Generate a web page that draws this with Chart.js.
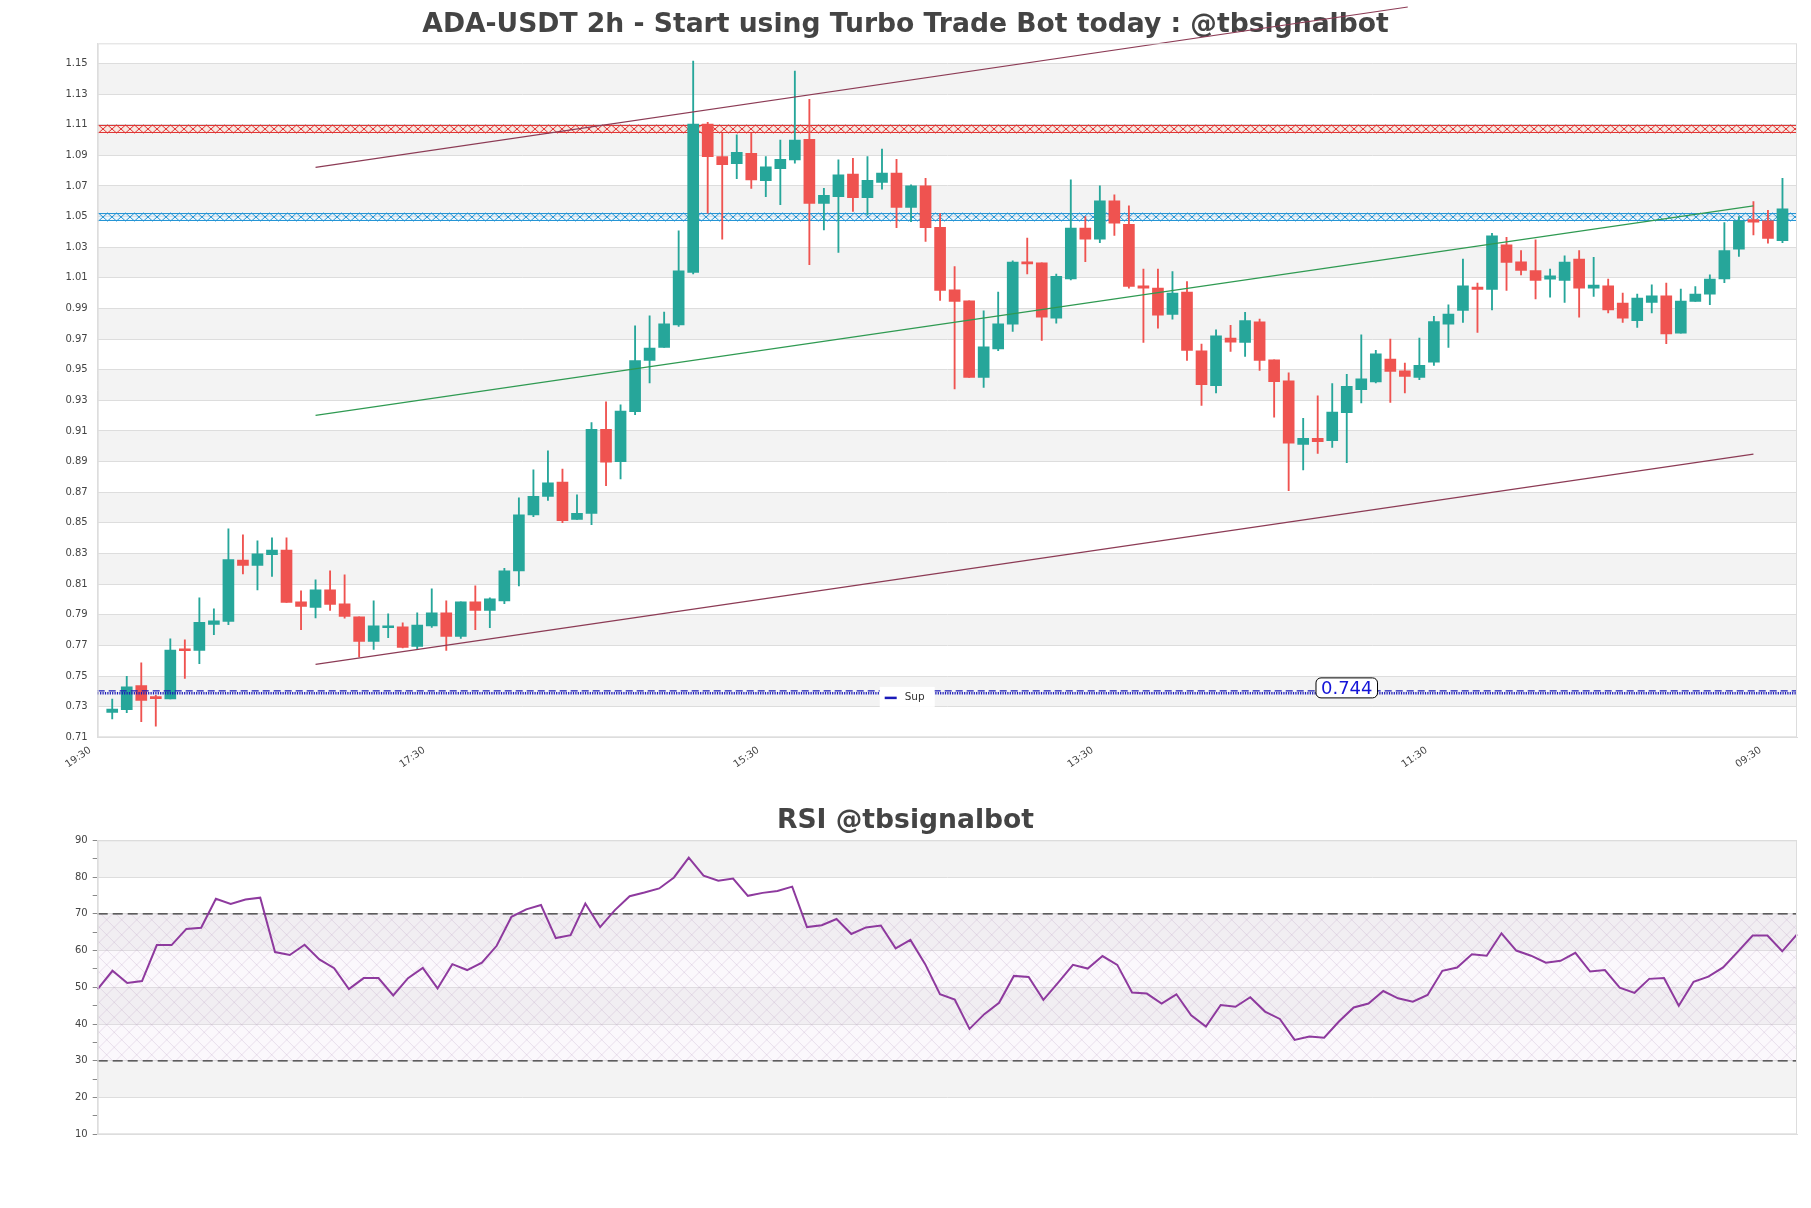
<!DOCTYPE html>
<html>
<head>
<meta charset="utf-8">
<script src="https://cdn.jsdelivr.net/npm/chart.js@4.4.1/dist/chart.umd.min.js"></script>
<style>
  html,body{margin:0;padding:0;background:#fff;}
  #wrap{position:relative;width:1811px;height:1208px;}
  #main{position:absolute;left:0;top:0;}
  #rsi{position:absolute;left:0;top:780px;}
</style>
</head>
<body>
<div id="wrap">
  <canvas id="main" width="1811" height="780"></canvas>
  <canvas id="rsi" width="1811" height="428"></canvas>
</div>
<script>
// ── DATA ──
const TITLE_MAIN='ADA-USDT 2h - Start using Turbo Trade Bot today : @tbsignalbot';
const TITLE_RSI='RSI @tbsignalbot';
const X_TICK_INDEX=[0,23,46,69,92,115];
const X_TICK_LABELS=['19:30','17:30','15:30','13:30','11:30','09:30'];
const Y_TICKS=[0.71,0.73,0.75,0.77,0.79,0.81,0.83,0.85,0.87,0.89,0.91,0.93,0.95,0.97,0.99,1.01,1.03,1.05,1.07,1.09,1.11,1.13,1.15];
const RSI_TICKS=[10,15,20,25,30,35,40,45,50,55,60,65,70,75,80,85,90];
const RSI_BANDS=[10,20,30,40,50,60,70,80,90];

const OPEN=[0.7263,0.728,0.7437,0.736,0.735,0.7675,0.7667,0.7837,0.7857,0.8257,
 0.8222,0.8293,0.8322,0.7985,0.7948,0.8063,0.7972,0.7887,0.7726,0.7815,
 0.7822,0.7693,0.7828,0.7913,0.7759,0.7985,0.7928,0.7991,0.8187,0.8552,
 0.8672,0.8767,0.8522,0.8561,0.911,0.89,0.9226,0.9561,0.9646,0.9793,
 1.0135,1.1104,1.0891,1.0846,1.0913,1.0735,1.0813,1.087,1.1004,1.0585,
 1.063,1.0778,1.0624,1.0722,1.0783,1.0559,1.07,1.043,1.0022,0.995,
 0.945,0.9635,0.9798,1.02,1.0198,0.9837,1.0093,1.0424,1.0352,1.0602,
 1.045,1.0048,1.0033,0.9861,1.0007,0.9624,0.9396,0.9707,0.9678,0.9813,
 0.9565,0.9428,0.9013,0.9052,0.9037,0.922,0.9369,0.942,0.9569,0.9493,
 0.945,0.955,0.9798,0.9887,1.0039,1.0024,1.0315,1.0204,1.0148,1.0091,
 1.0083,1.0222,1.0033,1.0048,0.9935,0.982,0.9939,0.9983,0.9739,0.9946,
 0.9993,1.0093,1.0287,1.048,1.0472,1.0343];
const HIGH=[0.735,0.7498,0.7587,0.7374,0.7743,0.7737,0.8011,0.7939,0.8461,0.8422,
 0.8383,0.8402,0.8402,0.8056,0.8128,0.8187,0.8161,0.7887,0.7991,0.7906,
 0.7848,0.7913,0.807,0.7991,0.7985,0.8089,0.8011,0.8204,0.8663,0.8846,
 0.897,0.8852,0.8683,0.9154,0.9291,0.927,0.9787,0.9852,0.9876,1.0406,
 1.1515,1.1115,1.1043,1.1033,1.1043,1.0891,1.1,1.145,1.1265,1.0685,
 1.087,1.088,1.0891,1.0941,1.0874,1.0707,1.075,1.052,1.0174,0.995,
 0.9885,1.0007,1.0211,1.0359,1.0198,1.0124,1.0739,1.05,1.07,1.0641,
 1.057,1.0157,1.0157,1.0141,1.0076,0.9667,0.9761,0.9789,0.9874,0.983,
 0.9565,0.948,0.9183,0.933,0.941,0.947,0.9728,0.9626,0.97,0.9543,
 0.9707,0.9848,0.9924,1.0222,1.0065,1.0391,1.0365,1.0278,1.0348,1.0157,
 1.0243,1.0278,1.0233,1.0091,1.0,0.9993,1.0054,1.0065,1.0026,1.0043,
 1.012,1.0461,1.05,1.0598,1.054,1.075];
const LOW=[0.722,0.726,0.7202,0.7172,0.735,0.7485,0.758,0.777,0.7835,0.8167,
 0.8063,0.815,0.798,0.7802,0.788,0.7928,0.7878,0.7624,0.7674,0.775,
 0.7683,0.7674,0.7817,0.7667,0.7746,0.7802,0.7815,0.7972,0.8089,0.8541,
 0.8646,0.8502,0.8522,0.8489,0.8743,0.8787,0.9206,0.9413,0.9646,0.9783,
 1.0126,1.0522,1.0352,1.0748,1.0683,1.063,1.0578,1.0848,1.0185,1.0413,
 1.0265,1.0533,1.0511,1.0678,1.0428,1.0467,1.0337,0.9952,0.9374,0.945,
 0.9385,0.9624,0.975,1.0126,0.9691,0.9804,1.0087,1.0206,1.033,1.0376,
 1.0033,0.9678,0.9772,0.983,0.9561,0.9267,0.9348,0.962,0.9587,0.9496,
 0.919,0.871,0.8846,0.8954,0.8993,0.8893,0.9283,0.9413,0.9287,0.9348,
 0.9435,0.9528,0.9646,0.9809,0.9743,0.9891,1.0017,1.0119,0.9963,0.9974,
 0.9939,0.9843,0.9978,0.987,0.9809,0.9776,0.987,0.967,0.9739,0.9946,
 0.9924,1.0069,1.0239,1.038,1.0326,1.033];
const CLOSE=[0.7285,0.743,0.734,0.7352,0.767,0.7665,0.785,0.7861,0.826,0.8222,
 0.8298,0.8322,0.798,0.7954,0.8063,0.7967,0.7889,0.7726,0.7828,0.7826,
 0.7687,0.7833,0.7913,0.7759,0.7985,0.7928,0.8004,0.8187,0.8552,0.8674,
 0.8761,0.8515,0.8563,0.911,0.8896,0.923,0.9559,0.9641,0.98,1.0146,
 1.1104,1.0891,1.0839,1.092,1.0739,1.0824,1.0874,1.1,1.0585,1.0639,
 1.0772,1.0624,1.0737,1.0783,1.0559,1.07,1.0428,1.0017,0.9946,0.945,
 0.965,0.98,1.0202,1.0191,0.9843,1.0109,1.0424,1.0352,1.0602,1.0456,
 1.0043,1.0033,0.9856,1.0,0.9626,0.9402,0.9722,0.968,0.982,0.9561,
 0.9422,0.902,0.9052,0.903,0.9224,0.9391,0.9441,0.9604,0.9489,0.9456,
 0.9528,0.9815,0.9863,1.0048,1.0024,1.0374,1.02,1.0148,1.0083,1.0113,
 1.0202,1.0033,1.0052,0.9891,0.9837,0.9967,0.9983,0.9733,0.9948,0.9993,
 1.0091,1.0278,1.0472,1.0463,1.0357,1.055];

const RSI=[49.5,54.5,51.2,51.7,61.5,61.5,65.9,66.2,74.1,72.7,
 73.9,74.4,59.6,58.8,61.6,57.6,55.2,49.5,52.5,52.5,
 47.8,52.5,55.3,49.7,56.3,54.7,56.7,61.3,69.2,71.2,
 72.4,63.4,64.2,72.8,66.4,71.0,74.8,75.8,76.9,79.9,
 85.3,80.4,79.0,79.6,74.9,75.7,76.2,77.4,66.4,66.9,
 68.6,64.5,66.3,66.8,60.6,62.9,56.3,48.1,46.7,38.7,
 42.7,45.8,53.1,52.8,46.6,51.3,56.1,55.1,58.5,56.1,
 48.6,48.3,45.6,48.1,42.4,39.3,45.2,44.7,47.3,43.4,
 41.4,35.7,36.6,36.3,40.7,44.5,45.6,49.0,47.0,46.1,
 47.9,54.5,55.4,59.0,58.6,64.7,60.0,58.6,56.7,57.2,
 59.4,54.3,54.7,49.9,48.5,52.3,52.5,45.0,51.5,52.9,
 55.4,59.7,64.1,64.1,59.8,64.4];

// trend channel endpoints [index, price]
const CHANNEL_UP=[[14,1.0821],[89.2,1.1868]];
const CHANNEL_MID=[[14,0.9202],[113,1.057]];
const CHANNEL_LOW=[[14,0.7576],[113,0.8949]];
const RES_ZONE=[1.1043,1.1097];
const PIVOT_ZONE=[1.0469,1.0525];
const SUP_LINES=[0.7388,0.7403];
const SUP_TAG_AT=85, SUP_TAG='0.744', SUP_NAME='Sup';
const RSI_LEVELS=[30,70];

// ── STYLE ──
const UP='#26a69a', DN='#ef5350';
const FONT='DejaVu Sans';
const txt='#444', grid='#dddddd', band='#f3f3f3';
// empty right-hand axis: keeps the plot 14px from the edge while titles centre on the full canvas
const spacer={ position:'right', display:true, grid:{display:false,drawTicks:false},
  border:{display:false}, ticks:{display:false}, afterFit:s=>{ s.width=14; } };

// ── PLUGINS ──
const zebra={ id:'zebra',
  beforeDraw(chart,args,opts){
    const {ctx,chartArea:a}=chart, y=chart.scales.y, e=opts.edges||[];
    ctx.save();
    ctx.fillStyle=band;
    for(let i=1;i<e.length-1;i+=2){
      const p0=y.getPixelForValue(e[i]), p1=y.getPixelForValue(e[i+1]);
      ctx.fillRect(a.left,p1,a.right-a.left,p0-p1);
    }
    ctx.restore();
  },
  afterDraw(chart){
    const {ctx,chartArea:a}=chart;
    ctx.save(); ctx.strokeStyle=grid; ctx.lineWidth=1;
    ctx.strokeRect(a.left+0.5,a.top+0.5,a.right-a.left-1,a.bottom-a.top-1);
    ctx.restore();
  }
};

function zone(ctx,a,y,lo,hi,col,fill){
  const t=Math.round(y.getPixelForValue(hi)), b=Math.round(y.getPixelForValue(lo)), step=9;
  ctx.save();
  ctx.beginPath(); ctx.rect(a.left,t-1,a.right-a.left,b-t+2); ctx.clip();
  ctx.fillStyle=fill; ctx.fillRect(a.left,t,a.right-a.left,b-t);
  ctx.strokeStyle=col; ctx.lineWidth=1;
  ctx.beginPath();
  ctx.moveTo(a.left,t+0.5); ctx.lineTo(a.right,t+0.5);
  ctx.moveTo(a.left,b-0.5); ctx.lineTo(a.right,b-0.5);
  for(let x=Math.round(a.left)+0.5;x<a.right;x+=step){
    ctx.moveTo(x,t); ctx.lineTo(x+step,b);
    ctx.moveTo(x+step,t); ctx.lineTo(x,b);
  }
  ctx.stroke(); ctx.restore();
}

const levels={ id:'levels',
  beforeDatasetsDraw(chart){
    const {ctx,chartArea:a}=chart, y=chart.scales.y;
    zone(ctx,a,y,RES_ZONE[0],RES_ZONE[1],'#e03535','rgba(255,210,190,0.35)');
    zone(ctx,a,y,PIVOT_ZONE[0],PIVOT_ZONE[1],'#2595d5','rgba(200,230,250,0.35)');
  },
  afterDatasetsDraw(chart){
    const {ctx,chartArea:a}=chart, x=chart.scales.x, y=chart.scales.y;
    const yd=y.getPixelForValue(SUP_LINES[1]), yo=y.getPixelForValue(SUP_LINES[0]);
    ctx.save();
    ctx.strokeStyle='#1a1ab8';
    ctx.lineWidth=1.2; ctx.setLineDash([7,4]);
    ctx.beginPath(); ctx.moveTo(a.left,yd); ctx.lineTo(a.right,yd); ctx.stroke();
    ctx.lineWidth=2.4; ctx.setLineDash([1.2,1.2]);
    ctx.beginPath(); ctx.moveTo(a.left,yo); ctx.lineTo(a.right,yo); ctx.stroke();
    ctx.setLineDash([]);
    // value tag
    const cx=x.getPixelForValue(SUP_TAG_AT), cy=yd-3;
    ctx.font='18px '+FONT;
    const w=ctx.measureText(SUP_TAG).width+10, h=20;
    ctx.fillStyle='#fff'; ctx.strokeStyle='#000'; ctx.lineWidth=1;
    ctx.beginPath(); ctx.roundRect(cx-w/2,cy-h/2,w,h,5); ctx.fill(); ctx.stroke();
    ctx.fillStyle='#1515d8'; ctx.textAlign='center'; ctx.textBaseline='middle';
    ctx.fillText(SUP_TAG,cx,cy+1);
    // legend
    const lx=a.left+782, ly=yd+6;
    ctx.fillStyle='#fff'; ctx.fillRect(lx,ly-10,55,20);
    ctx.strokeStyle='#1a1ab8'; ctx.lineWidth=2.5;
    ctx.beginPath(); ctx.moveTo(lx+5,ly+1); ctx.lineTo(lx+17,ly+1); ctx.stroke();
    ctx.fillStyle='#333'; ctx.font='10.5px '+FONT; ctx.textAlign='left';
    ctx.fillText(SUP_NAME,lx+25,ly);
    ctx.restore();
  }
};

const rsiZone={ id:'rsiZone',
  beforeDatasetsDraw(chart){
    const {ctx,chartArea:a}=chart, y=chart.scales.y;
    const t=y.getPixelForValue(RSI_LEVELS[1]), b=y.getPixelForValue(RSI_LEVELS[0]);
    ctx.save();
    ctx.beginPath(); ctx.rect(a.left,t,a.right-a.left,b-t); ctx.clip();
    ctx.fillStyle='rgba(235,215,240,0.18)'; ctx.fillRect(a.left,t,a.right-a.left,b-t);
    ctx.strokeStyle='rgba(190,165,200,0.45)'; ctx.lineWidth=0.7;
    ctx.beginPath();
    const s=15, hgt=b-t;
    for(let x=a.left-hgt;x<a.right+hgt;x+=s){
      ctx.moveTo(x,t); ctx.lineTo(x+hgt,b);
      ctx.moveTo(x,b); ctx.lineTo(x+hgt,t);
    }
    ctx.stroke();
    ctx.restore();
    ctx.save();
    ctx.strokeStyle='#333'; ctx.lineWidth=1.3; ctx.setLineDash([10,5]);
    RSI_LEVELS.forEach(v=>{
      const p=y.getPixelForValue(v);
      ctx.beginPath(); ctx.moveTo(a.left,p); ctx.lineTo(a.right,p); ctx.stroke();
    });
    ctx.restore();
  }
};

// ── MAIN CHART ──
const cols=OPEN.map((o,i)=>CLOSE[i]>=o?UP:DN);
const seg=(pts,c)=>({type:'line',data:pts.map(([x,y])=>({x,y})),borderColor:c,borderWidth:1.2,
  pointRadius:0,clip:false,order:0});

new Chart(document.getElementById('main'),{
  type:'bar',
  data:{ datasets:[
    seg(CHANNEL_UP,'#8c3b55'),
    seg(CHANNEL_MID,'#2f9a52'),
    seg(CHANNEL_LOW,'#8c3b55'),
    { data:OPEN.map((o,i)=>({x:i,y:[o,CLOSE[i]]})), backgroundColor:cols,
      barThickness:11, minBarLength:2, grouped:false, order:1 },
    { data:LOW.map((l,i)=>({x:i,y:[l,HIGH[i]]})), backgroundColor:cols,
      barThickness:1.2, grouped:false, order:2 }
  ]},
  options:{ responsive:false, animation:false,
    layout:{padding:0},
    plugins:{ legend:{display:false}, tooltip:{enabled:false},
      title:{display:true,text:TITLE_MAIN,color:txt,font:{family:FONT,size:26.6,weight:'bold'},padding:{top:9.5,bottom:1.9}},
      zebra:{edges:Y_TICKS} },
    scales:{
      x:{ type:'linear', min:-1, max:116, offset:false,
        grid:{display:false,offset:false,drawTicks:false}, border:{color:grid},
        afterBuildTicks:s=>{ s.ticks=X_TICK_INDEX.map(v=>({value:v})); },
        afterFit:s=>{ s.height=42.7; },
        ticks:{ autoSkip:false, minRotation:35, maxRotation:35, padding:7, labelOffset:-22,
          color:txt, font:{family:FONT,size:10}, callback:(v,i)=>X_TICK_LABELS[i] } },
      y:{ min:0.71, max:1.1631,
        afterBuildTicks:s=>{ s.ticks=Y_TICKS.map(v=>({value:v})); },
        afterFit:s=>{ s.width=97.7; },
        grid:{color:grid,drawTicks:false}, border:{color:grid},
        ticks:{ color:txt, padding:10, font:{family:FONT,size:10}, callback:v=>v.toFixed(2) } },
      yr:spacer
    }
  },
  plugins:[zebra,levels]
});

// ── RSI CHART ──
new Chart(document.getElementById('rsi'),{
  type:'line',
  data:{ labels:RSI.map((_,i)=>i), datasets:[{ data:RSI, borderColor:'#8e3a9e', borderWidth:2,
    pointRadius:0, tension:0 }]},
  options:{ responsive:false, animation:false,
    layout:{padding:0},
    plugins:{ legend:{display:false}, tooltip:{enabled:false},
      title:{display:true,text:TITLE_RSI,color:txt,font:{family:FONT,size:26.6,weight:'bold'},padding:{top:25.5,bottom:2.9}},
      zebra:{edges:RSI_BANDS} },
    scales:{
      x:{ offset:false, grid:{display:false,drawTicks:false}, border:{color:grid},
        ticks:{display:false}, afterFit:s=>{ s.height=73.7; } },
      y:{ min:10, max:90,
        afterBuildTicks:s=>{ s.ticks=RSI_TICKS.map(v=>({value:v})); },
        afterFit:s=>{ s.width=97.7; },
        grid:{ color:c=>(c.tick && c.tick.value%10===0)?grid:'rgba(0,0,0,0)', tickColor:'#888', tickLength:5 },
        border:{color:grid},
        ticks:{ color:txt, padding:5, font:{family:FONT,size:10}, callback:v=>v%10===0?String(v):'' } },
      yr:spacer
    }
  },
  plugins:[zebra,rsiZone]
});
</script>
</body>
</html>
